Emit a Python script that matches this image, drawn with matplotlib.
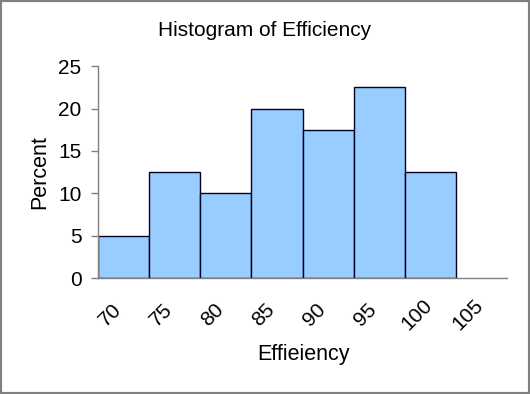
import matplotlib
matplotlib.use("Agg")
from matplotlib import pyplot as plt
from matplotlib import transforms
import numpy as np

plt.rcParams["font.family"] = ["Liberation Sans", "DejaVu Sans"]

bin_edges = [70, 75, 80, 85, 90, 95, 100, 105]
percents = [5, 12.5, 10, 20, 17.5, 22.5, 12.5]
tick_labels = ["70", "75", "80", "85", "90", "95", "100", "105"]

fig = plt.figure(figsize=(5.3, 3.94), dpi=100)
ax = fig.add_axes([0.185, 0.294, 0.772, 0.538])

widths = np.diff(bin_edges)
ax.bar(bin_edges[:-1], percents, width=widths, align="edge",
       color="#99CCFF", edgecolor="#000020", linewidth=1.0)

ax.set_xlim(70, 110)
ax.set_ylim(0, 25)
ax.set_yticks([0, 5, 10, 15, 20, 25])
ax.set_xticks(bin_edges)
ax.set_xticklabels([])

# rotated labels sit a little right of and below each bin edge
base = transforms.blended_transform_factory(ax.transData, ax.transAxes)
offset = transforms.ScaledTranslation(12 / 100, -37 / 100, fig.dpi_scale_trans)
for x, lab in zip(bin_edges, tick_labels):
    ax.text(x, 0, lab, transform=base + offset, rotation=45,
            ha="center", va="center", fontsize=15, clip_on=False)

ax.tick_params(axis="x", length=0)
ax.tick_params(axis="y", length=5, width=1, color="#808080", labelsize=15, pad=7)
for s in ["top", "right"]:
    ax.spines[s].set_visible(False)
for s in ["left", "bottom"]:
    ax.spines[s].set_color("#808080")
    ax.spines[s].set_linewidth(1)

fig.text(0.5, 0.922, "Histogram of Efficiency", ha="center", va="center", fontsize=15)
fig.text(0.0755, 0.563, "Percent", ha="center", va="center", rotation=90, fontsize=15.5)
fig.text(0.572, 0.099, "Effieiency", ha="center", va="center", fontsize=15.5)

# gray frame around the whole picture
fig.patches.append(plt.Rectangle((0, 0), 1, 1, transform=fig.transFigure,
                                 fill=False, edgecolor="#808080", linewidth=3))

fig.savefig("out.png", dpi=100)
